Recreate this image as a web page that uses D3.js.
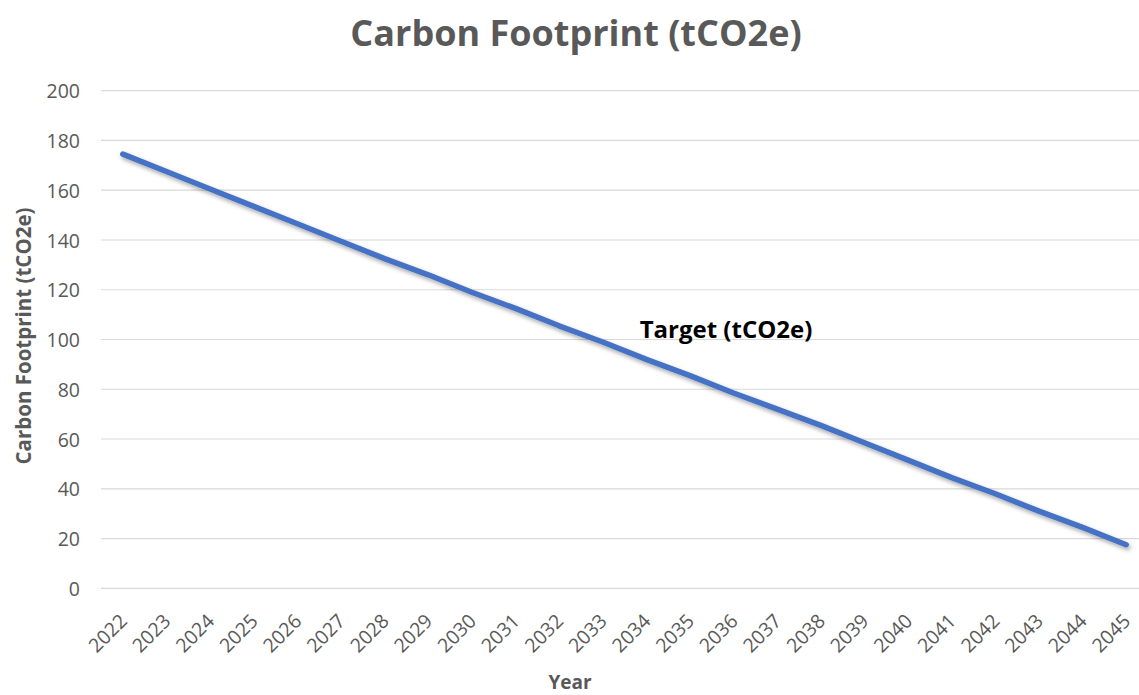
<!DOCTYPE html>
<html>
<head>
<meta charset="utf-8">
<script src="https://cdn.jsdelivr.net/npm/d3@7"></script>
<style>
  html, body { margin: 0; padding: 0; background: #fff; }
  svg { display: block; }
  text { font-family: "Open Sans", "Lato", sans-serif; }
</style>
</head>
<body>
<svg id="chart" width="1139" height="695"></svg>
<script>
const years = ["2022","2023","2024","2025","2026","2027","2028","2029","2030","2031","2032","2033",
               "2034","2035","2036","2037","2038","2039","2040","2041","2042","2043","2044","2045"];
const target = [174.5,167.5,160.5,153.5,146.5,139.5,132.5,126,119,112.5,105.5,99,
                92,85.5,78.5,72,65.5,58.5,51.5,44.5,38,31,24.5,17.5];
const yTicks = [0,20,40,60,80,100,120,140,160,180,200];
const chartTitle = "Carbon Footprint (tCO2e)";
const yTitle = "Carbon Footprint (tCO2e)";
const xTitle = "Year";
const seriesName = "Target (tCO2e)";

const svg = d3.select("#chart");
const plot = {left: 101, right: 1148, top: 90.7, bottom: 588.3};

const x = d3.scalePoint().domain(years).range([plot.left, plot.right]).padding(0.5);
const y = d3.scaleLinear().domain([0, 200]).range([plot.bottom, plot.top]);

const defs = svg.append("defs");
const f = defs.append("filter").attr("id","shadow").attr("x","-5%").attr("y","-5%").attr("width","110%").attr("height","120%");
f.append("feDropShadow").attr("dx",1.5).attr("dy",2.5).attr("stdDeviation",2).attr("flood-color","#000").attr("flood-opacity",0.35);

// gridlines
svg.append("g")
  .selectAll("line").data(yTicks).join("line")
  .attr("x1", plot.left).attr("x2", plot.right)
  .attr("y1", d => y(d)).attr("y2", d => y(d))
  .attr("stroke", "#d9d9d9").attr("stroke-width", 1.2);

// y axis labels
const yAxis = d3.axisLeft(y).tickValues(yTicks).tickSize(0).tickPadding(0);
const gy = svg.append("g").attr("transform", `translate(80,0)`).call(yAxis);
gy.select(".domain").remove();
gy.selectAll("text").attr("fill","#595959").style("font-size","19.5px").attr("dy","0.36em");

// x axis labels
const xAxis = d3.axisBottom(x).tickSize(0).tickPadding(0);
const gx = svg.append("g").attr("transform", `translate(0,${plot.bottom})`).call(xAxis);
gx.select(".domain").remove();
gx.selectAll("text")
  .attr("fill","#595959").style("font-size","19.5px")
  .attr("text-anchor","end")
  .attr("dy", "0")
  .attr("y", 0)
  .attr("transform", "translate(5,34) rotate(-45)");

// line
const line = d3.line().x((d,i) => x(years[i])).y(d => y(d));
svg.append("path").datum(target)
  .attr("d", line)
  .attr("fill","none")
  .attr("stroke","#4472C4")
  .attr("stroke-width",5.5)
  .attr("stroke-linecap","round")
  .attr("stroke-linejoin","round")
  .attr("filter","url(#shadow)");

// series label
svg.append("text")
  .attr("x", 726).attr("y", 338)
  .attr("text-anchor","middle")
  .attr("fill","#000").attr("font-weight","bold")
  .style("font-size","24px")
  .text(seriesName);

// title
svg.append("text")
  .attr("x", 576).attr("y", 46)
  .attr("text-anchor","middle")
  .attr("fill","#595959").attr("font-weight","bold")
  .style("font-size","36px")
  .text(chartTitle);

// y title
svg.append("text")
  .attr("transform", "translate(31,336) rotate(-90)")
  .attr("text-anchor","middle")
  .attr("fill","#595959").attr("font-weight","bold")
  .style("font-size","20.5px")
  .text(yTitle);

// x title
svg.append("text")
  .attr("x", 570).attr("y", 689)
  .attr("text-anchor","middle")
  .attr("fill","#595959").attr("font-weight","bold")
  .style("font-size","19px")
  .text(xTitle);
</script>
</body>
</html>
